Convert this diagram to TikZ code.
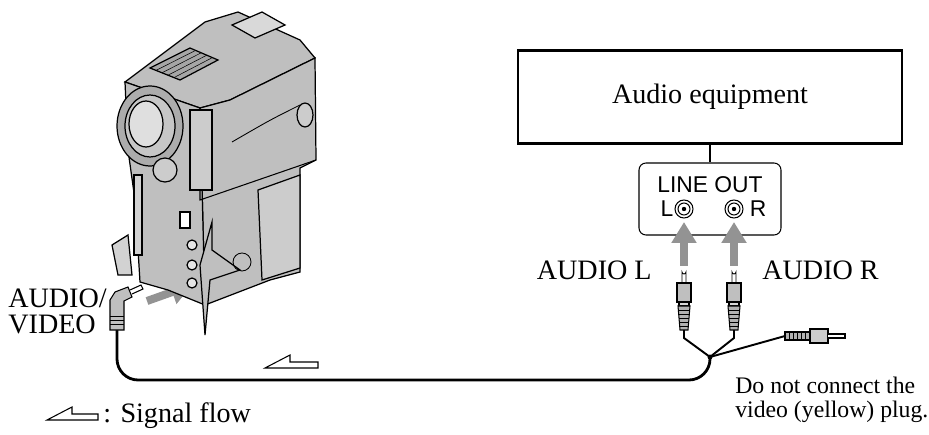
\documentclass[tikz,border=0pt]{standalone}
\usepackage{fontspec}
\setmainfont{Liberation Serif}
\newfontfamily\sansf{Liberation Sans}
\usetikzlibrary{calc, arrows.meta}

\begin{document}
\begin{tikzpicture}[x=0.02cm, y=-0.02cm,
  lbl/.style={font=\fontsize{16}{14.8}\selectfont, inner sep=0pt},
  jack/.style={font=\sansf\fontsize{13}{15}\selectfont, inner sep=0pt},
  body/.style={draw=black, line width=0.7pt, fill=gray!50},
  flow/.style={draw=black, line width=0.6pt, fill=white},
  feed/.style={draw=gray!85, line width=0.16cm, -{Triangle[length=0.42cm, width=0.48cm]}},
  cable/.style={line width=1.6pt, rounded corners=12}]
\useasboundingbox (0,0) rectangle (929,435);

% Audio equipment
\node[draw, line width=1.5pt, minimum width=384*0.02cm, minimum height=93*0.02cm, lbl] (equip) at (710,97) {Audio equipment};
\node[draw, rounded corners=4pt, line width=0.6pt, minimum width=142*0.02cm, minimum height=72*0.02cm] (lineout) at (710,199) {};
\draw[line width=0.8pt] (equip.south) -- (lineout.north);
\node[jack] (lotext) at (710,185) {LINE OUT};
\node[jack] (ltext) at (667,209) {L};
\node[jack] (rtext) at (758,209) {R};
\foreach \n/\x in {jl/684, jr/734} {
  \node[circle, draw, line width=0.6pt, minimum size=18*0.02cm, inner sep=0pt] (\n) at (\x,209) {};
  \draw[line width=0.6pt] (\x,209) circle (6);
  \fill (\x,209) circle (2.2);
}

% RCA plugs and gray arrows
\foreach \n/\x in {pl/684, pr/734} {
  \draw[feed] (\x,266) -- (\x,222);
  \draw[line width=0.5pt, fill=white] (\x-2,283) -- (\x-2,272) arc (180:0:2) -- (\x+2,283);
  \draw[line width=0.6pt, fill=gray!50] (\x-7,283) rectangle (\x+7,302);
  \draw[line width=0.6pt, fill=gray!30] (\x-5,302) rectangle (\x+5,306);
  \draw[line width=0.6pt, fill=gray!60] (\x-6,306) -- (\x-4,330) -- (\x+4,330) -- (\x+6,306) -- cycle;
  \foreach \k in {310,314,...,326} \draw[line width=0.4pt] (\x-5,\k) -- (\x+5,\k);
  \coordinate (\n) at (\x,330);
}
\node[lbl, anchor=east] (audl) at (652,270) {AUDIO L};
\node[lbl, anchor=west] (audr) at (762,270) {AUDIO R};

% yellow (video) plug, not connected
\coordinate (split) at (710,357);
\coordinate (vplug) at (785,336);
\draw[line width=0.6pt, fill=gray!60] (785,332) rectangle (810,340);
\foreach \k in {789,793,...,805} \draw[line width=0.4pt] (\k,332) -- (\k,340);
\draw[line width=0.6pt, fill=gray!40] (810,329) rectangle (828,343);
\draw[line width=0.6pt, fill=white] (828,334) -- (845,334) -- (845,338) -- (828,338);
\draw[line width=1.1pt] (pl) -- ++(0,8) -- (split);
\draw[line width=1.1pt] (pr) -- ++(0,8) -- (split);
\draw[line width=1.1pt] (split) -- (vplug);
\fill (split) circle (2.5);

% main cable
\coordinate (mini) at (117,330);
\draw[cable] (split) -- (710,380) -- (117,380) -- (mini);

% mini plug
\draw[line width=0.6pt, fill=gray!50] (110,330) -- (110,300) -- (115,292) -- (128,287) -- (132,297) -- (124,301) -- (124,330) -- cycle;
\foreach \k in {316,320,324} \draw[line width=0.4pt] (110,\k) -- (124,\k);
\draw[line width=0.6pt, fill=white] (130,290) -- (141,285) -- (143,289) -- (132,294);
\draw[feed] (147,301) -- (192,285);
\node[lbl, anchor=west, align=left] (av) at (8,311) {AUDIO/\\VIDEO};

% camcorder
\draw[body] (125,82) -- (205,22) -- (238,12) -- (300,40) -- (315,58) -- (230,100) -- (200,108) -- cycle;
\draw[body] (200,108) -- (230,100) -- (315,58) -- (316,160) -- (300,168) -- (300,272) -- (270,280) -- (205,305) -- cycle;
\draw[body] (125,82) -- (200,108) -- (205,305) -- (168,290) -- (140,282) -- (135,200) -- (128,150) -- cycle;
\draw[line width=0.6pt] (200,108) -- (200,200) -- (316,160);
\draw[body, fill=gray!40] (258,190) -- (300,175) -- (300,268) -- (262,280) -- cycle;
\draw[body, fill=gray!70] (150,68) -- (190,48) -- (218,60) -- (180,80) -- cycle;
\foreach \k in {0.2,0.4,0.6,0.8}
  \draw[line width=0.3pt] ($(150,68)!\k!(180,80)$) -- ($(190,48)!\k!(218,60)$);
\draw[body, fill=gray!30] (232,25) -- (262,12) -- (285,25) -- (255,38) -- cycle;
\draw[body, fill=gray!65] (150,126) ellipse (33 and 40);
\draw[body, fill=gray!45] (150,126) ellipse (25 and 31);
\draw[body, fill=gray!25] (146,124) ellipse (17 and 23);
\draw[body, fill=gray!40] (165,170) circle (12);
\draw[body, fill=gray!40] (190,110) rectangle (212,190);
\draw[line width=0.5pt] (232,142) .. controls (270,120) .. (300,105);
\draw[body, fill=gray!40] (305,115) ellipse (8 and 12);
\draw[body, fill=gray!35] (134,175) rectangle (142,255);
\draw[body, fill=gray!35] (112,245) -- (128,235) -- (132,275) -- (118,275) -- cycle;
\draw[body, fill=white] (180,212) rectangle (190,228);
\foreach \y in {245,265,283} \draw[body, fill=gray!20] (192,\y) circle (5);
\draw[body, fill=gray!50] (200,265) -- (212,222) -- (212,250) -- (240,270) -- (210,280) -- (205,335) -- cycle;
\draw[line width=0.5pt] (242,262) circle (9);

% signal flow marks
\draw[flow] (265,368) -- (290,355) -- (290,362) -- (318,362) -- (318,368) -- cycle;
\draw[flow] (47,420) -- (72,407) -- (72,414) -- (98,414) -- (98,420) -- cycle;
\node[lbl, anchor=west] (legend) at (103,416) {: Signal flow};
\node[font=\fontsize{13.5}{13.6}\selectfont, inner sep=0pt, anchor=west, align=left] (note) at (735,400) {Do not connect the\\video (yellow) plug.};
\end{tikzpicture}
\end{document}
